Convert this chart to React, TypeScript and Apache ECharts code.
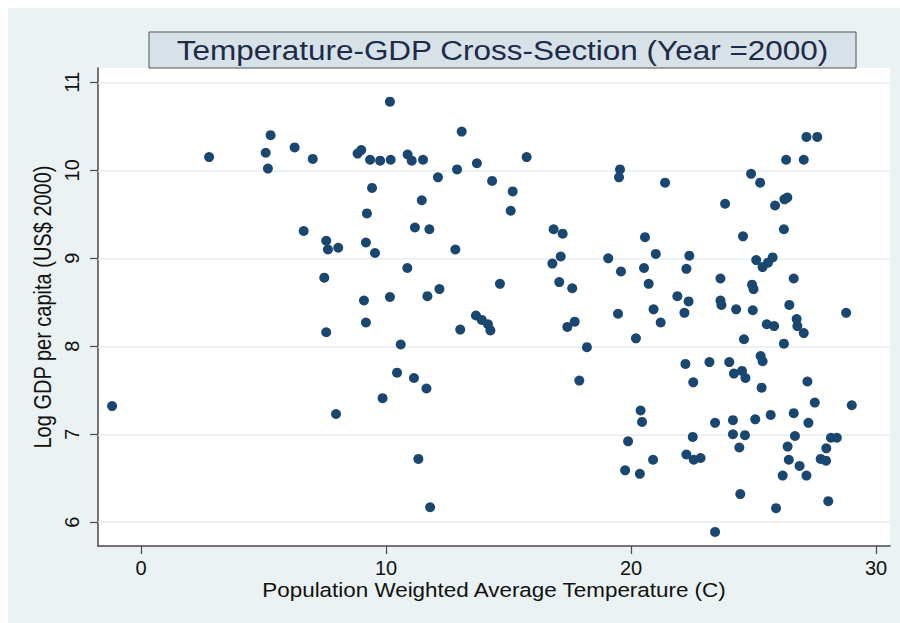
import { useEffect, useRef } from "react";
import * as echarts from "echarts";

// Population weighted average temperature (C), one entry per country
const tempC: number[] = [
  2.78, 5.29, 5.09, 5.18, 6.27, 7.01, 6.64, 7.56, 7.63, 8.05, 7.48,
  -1.18, 7.56, 7.96,
  10.16, 13.09, 8.84, 8.99, 9.35, 9.76, 10.19, 10.88, 11.05, 11.51, 15.74, 12.12, 12.9, 13.71, 14.33, 15.17, 15.09,
  9.43, 9.22, 11.46, 11.18, 11.77, 9.18, 9.55, 12.83, 16.84, 17.21, 17.13, 16.79, 10.87, 14.65, 17.07, 17.6,
  9.1, 10.16, 11.69, 12.18,
  9.18, 10.6, 10.45, 11.14, 11.65, 9.86, 11.32, 11.8, 13.03, 13.67, 13.91, 14.16, 14.26, 17.4, 17.7, 18.2, 17.89,
  27.16, 27.6, 26.33, 27.05, 19.55, 19.51, 21.39, 24.9, 25.27, 23.84, 25.88, 26.26, 26.38, 26.24, 24.57, 20.57,
  21.01, 22.38, 19.07, 19.59, 20.53, 22.26, 20.72, 25.11, 25.37, 25.59, 25.78, 23.65, 24.94, 25.0, 26.64, 21.89,
  22.35, 23.65, 23.69, 26.46,
  19.47, 20.92, 22.18, 21.21, 24.29, 24.97, 26.76, 26.79, 27.05, 28.78, 25.54, 25.84, 24.61, 26.24, 20.2, 22.22,
  23.2, 24.01, 24.2, 24.53, 24.67, 25.29, 25.37, 22.54, 25.33, 27.2, 27.5, 29.01, 20.39, 20.45, 23.43, 24.16,
  25.07, 25.7, 26.64, 27.24, 19.88, 22.52, 24.16, 24.65, 24.42, 26.69, 26.39, 27.97, 28.16, 28.4, 26.44, 26.88,
  27.16, 27.74, 27.96, 26.19, 22.26, 22.56, 22.84, 20.9, 19.76, 20.36, 24.46, 25.92, 28.05, 23.43,
];

// Log GDP per capita (US$ 2000), same order as tempC
const logGdp: number[] = [
  10.15, 10.4, 10.2, 10.02, 10.26, 10.13, 9.31, 9.2, 9.1, 9.12, 8.78,
  7.32, 8.16, 7.23,
  10.78, 10.44, 10.19, 10.23, 10.12, 10.11, 10.12, 10.18, 10.11, 10.12, 10.15, 9.92, 10.01, 10.08, 9.88, 9.76, 9.54,
  9.8, 9.51, 9.66, 9.35, 9.33, 9.18, 9.06, 9.1, 9.33, 9.28, 9.02, 8.94, 8.89, 8.71, 8.73, 8.66,
  8.52, 8.56, 8.57, 8.65,
  8.27, 8.02, 7.7, 7.64, 7.52, 7.41, 6.72, 6.17, 8.19, 8.35, 8.3, 8.25, 8.18, 8.22, 8.28, 7.99, 7.61,
  10.38, 10.38, 10.12, 10.12, 10.01, 9.92, 9.86, 9.96, 9.86, 9.62, 9.6, 9.67, 9.69, 9.33, 9.25, 9.24,
  9.05, 9.03, 9.0, 8.85, 8.89, 8.88, 8.71, 8.98, 8.9, 8.95, 9.01, 8.77, 8.7, 8.65, 8.77, 8.57,
  8.51, 8.52, 8.47, 8.47,
  8.37, 8.42, 8.38, 8.27, 8.42, 8.41, 8.31, 8.23, 8.15, 8.38, 8.25, 8.23, 8.08, 8.03, 8.09, 7.8,
  7.82, 7.82, 7.69, 7.72, 7.64, 7.89, 7.83, 7.59, 7.53, 7.6, 7.36, 7.33, 7.27, 7.14, 7.13, 7.16,
  7.17, 7.22, 7.24, 7.13, 6.92, 6.97, 7.0, 6.99, 6.85, 6.98, 6.86, 6.84, 6.96, 6.96, 6.71, 6.64,
  6.53, 6.72, 6.7, 6.53, 6.77, 6.71, 6.73, 6.71, 6.59, 6.55, 6.32, 6.16, 6.24, 5.89,
];

const xTicks: number[] = [0, 10, 20, 30];
const yTicks: number[] = [6, 7, 8, 9, 10, 11];

const titleText = "Temperature-GDP Cross-Section (Year =2000)";
const xTitle = "Population Weighted Average Temperature (C)";
const yTitle = "Log GDP per capita (US$ 2000)";

const FONT = "'Liberation Sans', Arial, sans-serif";
const AXIS_COLOR = "#4a4a4a";

export default function App() {
  const ref = useRef<HTMLDivElement>(null);

  useEffect(() => {
    if (!ref.current) return;
    const chart = echarts.init(ref.current, null, { renderer: "svg" });
    const points = tempC.map((t, i) => [t, logGdp[i]]);

    chart.setOption({
      animation: false,
      backgroundColor: "#eaf2f3",
      grid: {
        left: 90,
        top: 60,
        width: 792,
        height: 478,
        show: true,
        backgroundColor: "#ffffff",
        borderWidth: 0,
      },
      xAxis: {
        type: "value",
        min: -1.755,
        max: 30.57,
        axisLine: { show: true, onZero: false, lineStyle: { color: AXIS_COLOR, width: 1.5 } },
        axisTick: {
          show: true,
          length: 8,
          customValues: xTicks,
          lineStyle: { color: AXIS_COLOR, width: 1.2 },
        },
        axisLabel: {
          customValues: xTicks,
          fontSize: 20,
          fontFamily: FONT,
          color: "#111111",
          margin: 12,
        },
        splitLine: { show: false },
      },
      yAxis: {
        type: "value",
        min: 5.73,
        max: 11.163,
        axisLine: { show: true, onZero: false, lineStyle: { color: AXIS_COLOR, width: 1.5 } },
        axisTick: {
          show: true,
          length: 8,
          customValues: yTicks,
          lineStyle: { color: AXIS_COLOR, width: 1.2 },
        },
        axisLabel: {
          customValues: yTicks,
          rotate: 90,
          fontSize: 20,
          fontFamily: FONT,
          color: "#111111",
          margin: 16,
        },
        splitLine: { show: false },
      },
      series: [
        {
          type: "scatter",
          data: points,
          symbol: "circle",
          symbolSize: 10,
          itemStyle: { color: "#1a476f", opacity: 1 },
          z: 3,
          markLine: {
            z: 1,
            silent: true,
            symbol: "none",
            label: { show: false },
            lineStyle: { color: "#e6edef", width: 1.5, type: "solid" },
            data: yTicks.map((v) => ({ yAxis: v })),
          },
        },
      ],
      graphic: [
        {
          type: "group",
          children: [
            {
              type: "rect",
              shape: { x: 141, y: 24, width: 707, height: 36 },
              style: { fill: "#d6e2e8", stroke: "#505050", lineWidth: 1 },
            },
            {
              type: "text",
              x: 494.5,
              y: 42,
              scaleX: 1.166,
              style: {
                text: titleText,
                fontSize: 27,
                fontFamily: FONT,
                fill: "#1e2b48",
                align: "center",
                verticalAlign: "middle",
              },
            },
          ],
        },
        {
          type: "text",
          x: 486,
          y: 582,
          scaleX: 1.15,
          style: {
            text: xTitle,
            fontSize: 19.5,
            fontFamily: FONT,
            fill: "#111111",
            align: "center",
            verticalAlign: "middle",
          },
        },
        {
          type: "text",
          x: 35,
          y: 299,
          rotation: Math.PI / 2,
          scaleY: 1.15,
          style: {
            text: yTitle,
            fontSize: 20,
            fontFamily: FONT,
            fill: "#111111",
            align: "center",
            verticalAlign: "middle",
          },
        },
      ],
    });

    return () => chart.dispose();
  }, []);

  return (
    <div
      ref={ref}
      style={{ position: "fixed", left: 8, top: 8, width: 920, height: 640 }}
    />
  );
}
